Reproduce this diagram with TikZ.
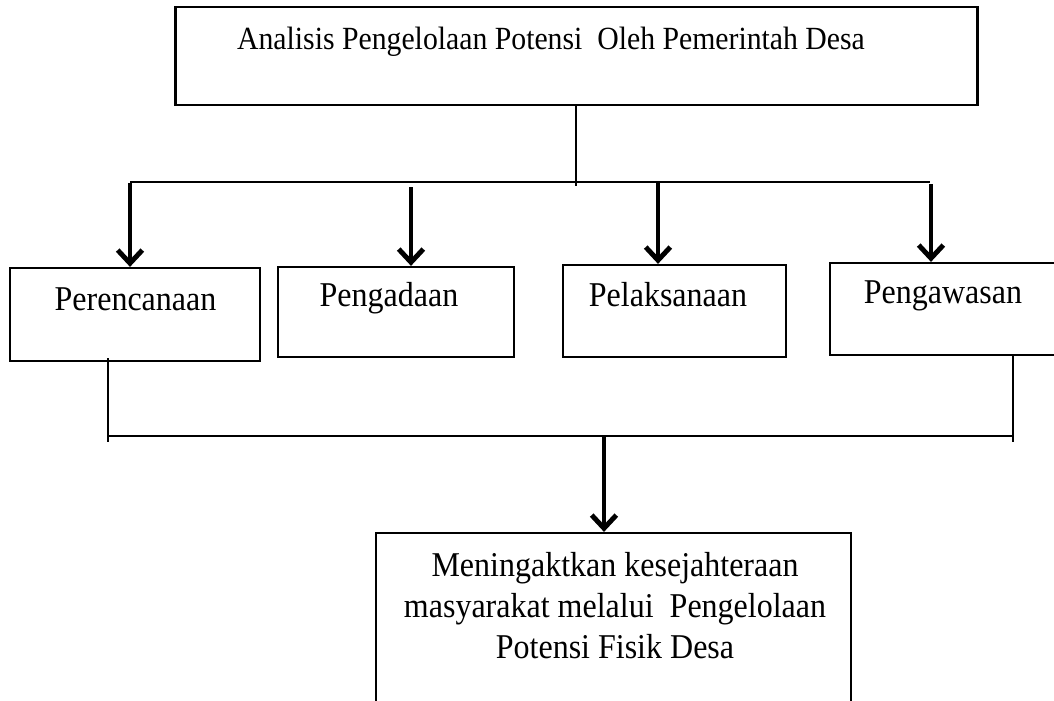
\documentclass[tikz,border=0pt]{standalone}
\usepackage{fontspec}
\setmainfont{Liberation Serif}
\newfontfamily\boxfont{Liberation Serif}[FakeStretch=0.92]
\usetikzlibrary{arrows.meta, positioning, calc}

\begin{document}
\begin{tikzpicture}[
    x=0.02cm, y=-0.02cm,
    box/.style={draw, line width=1.3pt, inner sep=0pt},
    lbl/.style={inner sep=0pt, font=\boxfont\fontsize{19.8}{23.2}\selectfont},
    link/.style={line width=1.1pt},
    arr/.style={line width=2.8pt, -{Straight Barb[length=7.5pt, width=14pt]}}
  ]
  \useasboundingbox (0,0) rectangle (1054,700);

  % Top box
  \node[box, minimum width=16.04cm, minimum height=1.96cm] (top) at (576.5,56) {};
  \node[lbl, anchor=base, font=\boxfont\fontsize{18.4}{22}\selectfont] (toplbl)
    at (551,49) {Analisis Pengelolaan Potensi\ \ Oleh Pemerintah Desa};

  % Four activities
  \node[box, minimum width=5.0cm,  minimum height=1.86cm] (p1) at (135,314.5) {};
  \node[box, minimum width=4.72cm, minimum height=1.8cm]  (p2) at (396,312) {};
  \node[box, minimum width=4.46cm, minimum height=1.84cm] (p3) at (674.5,311) {};
  \node[box, minimum width=4.8cm,  minimum height=1.84cm] (p4) at (950,309) {};
  \node[lbl, anchor=base] (l1) at (135.5,310) {Perencanaan};
  \node[lbl, anchor=base] (l2) at (389,306) {Pengadaan};
  \node[lbl, anchor=base] (l3) at (668,306) {Pelaksanaan};
  \node[lbl, anchor=base] (l4) at (943,303) {Pengawasan};

  % Result
  \node[box, minimum width=9.5cm, minimum height=4.14cm] (out) at (613.5,636.5) {};
  \node[lbl, anchor=north, align=center] (outlbl) at (615,552)
    {Meningaktkan kesejahteraan\\
     masyarakat melalui\ \ Pengelolaan\\
     Potensi Fisik Desa};

  % Split to the activities
  \coordinate (busM) at (576,186);
  \coordinate (busL) at (130,182);
  \coordinate (busR) at (930,182);
  \draw[link] (top.south -| busM) -- (busM);
  \draw[link] (busL) -- (busR);
  \coordinate (a1) at (130,183);
  \coordinate (a2) at (411,187);
  \coordinate (a3) at (658,183);
  \coordinate (a4) at (931,184);
  \draw[arr] (a1) -- (a1 |- p1.north);
  \draw[arr] (a2) -- (a2 |- p2.north);
  \draw[arr] (a3) -- (a3 |- p3.north);
  \draw[arr] (a4) -- (a4 |- p4.north);

  % Join to the result
  \coordinate (jL) at (108,442);
  \coordinate (jR) at (1013,442);
  \coordinate (jM) at (604,436);
  \draw[link] ($(jL |- p1.south)+(0,-4)$) -- (jL);
  \draw[link] (jR |- p4.south) -- (jR);
  \draw[link] (jL |- jM) -- (jR |- jM);
  \draw[arr] (jM) -- (jM |- out.north);
\end{tikzpicture}
\end{document}
